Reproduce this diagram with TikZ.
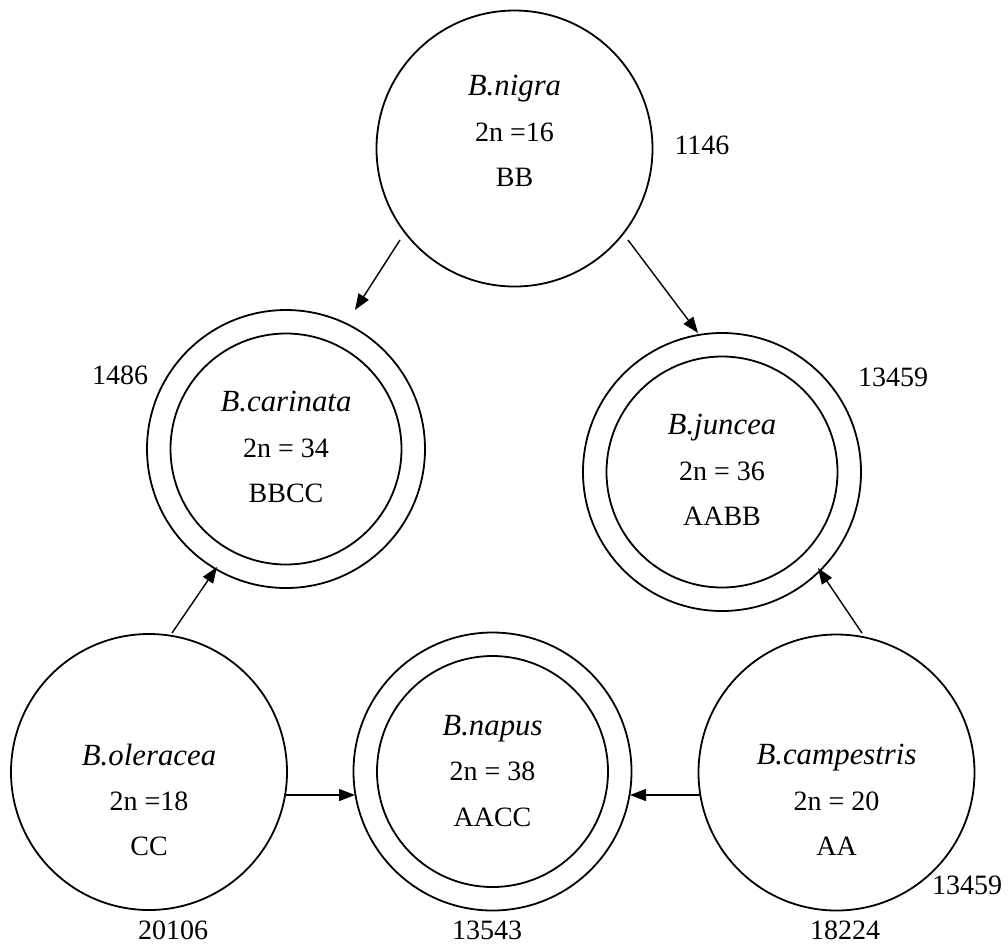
\documentclass[tikz,border=0pt]{standalone}
\usepackage{fontspec}
\setmainfont{Liberation Serif}
\usetikzlibrary{arrows.meta,calc}
\newcommand{\spn}[1]{{\fontsize{15.4}{22.7}\selectfont\itshape #1}}
\begin{document}
\begin{tikzpicture}[x=0.5pt,y=-0.5pt,
 circ/.style={circle,draw,line width=0.9pt,inner sep=0pt,minimum size=138pt},
 outer/.style={circle,draw,line width=0.9pt,inner sep=0pt,minimum size=139pt},
 innerc/.style={circle,draw,line width=0.9pt,inner sep=0pt,minimum size=115.5pt},
 txt/.style={align=center,inner sep=0pt,font=\fontsize{14}{22.7}\selectfont},
 num/.style={inner sep=0pt,font=\fontsize{14}{16}\selectfont},
 arr/.style={line width=0.7pt,-{Triangle[length=8pt,width=6pt]}}]
\useasboundingbox (0,0) rectangle (1008,950);
% circles
\node[circ] (nigra) at (514.5,148.5) {};
\node[circ] (ole) at (149,772) {};
\node[circ] (camp) at (836.5,772.5) {};
\node[outer] (car) at (286,449) {};
\node[innerc] (carIn) at (286,449) {};
\node[outer] (jun) at (722,472) {};
\node[innerc] (junIn) at (722,472) {};
\node[outer] (nap) at (492.5,771.5) {};
\node[innerc] (napIn) at (492.5,771.5) {};
% texts
\node[txt] (nigraT) at (514.5,131) {\spn{B.nigra}\\2n =16\\BB};
\node[txt] (carT) at (286,447) {\spn{B.carinata}\\2n = 34\\BBCC};
\node[txt] (junT) at (722,470) {\spn{B.juncea}\\2n = 36\\AABB};
\node[txt] (oleT) at (149,800) {\spn{B.oleracea}\\2n =18\\CC};
\node[txt] (napT) at (492.5,771) {\spn{B.napus}\\2n = 38\\AACC};
\node[txt] (campT) at (836.5,800) {\spn{B.campestris}\\2n = 20\\AA};
% numbers
\node[num] (n1146) at (702,145) {1146};
\node[num] (n1486) at (120,375) {1486};
\node[num] (n13459a) at (893,377) {13459};
\node[num] (n20106) at (173,930) {20106};
\node[num] (n13543) at (487,930) {13543};
\node[num] (n18224) at (845,930) {18224};
\node[num] (n13459b) at (967,885) {13459};
% arrows
\draw[arr] ($(nigra)+(-114.5,91.5)$) -- ($(car)+(69,-139)$);
\draw[arr] ($(nigra)+(113.5,91.5)$) -- ($(jun)+(-24,-139)$);
\draw[arr] ($(ole)+(23,-139)$) -- ($(car)+(-69,118)$);
\draw[arr] ($(camp)+(25.5,-139.5)$) -- ($(jun)+(96,96)$);
\draw[arr] ($(ole)+(137,23)$) -- ($(nap)+(-137.5,23.5)$);
\draw[arr] ($(camp)+(-136.5,22.5)$) -- ($(nap)+(137.5,23.5)$);
\end{tikzpicture}
\end{document}
